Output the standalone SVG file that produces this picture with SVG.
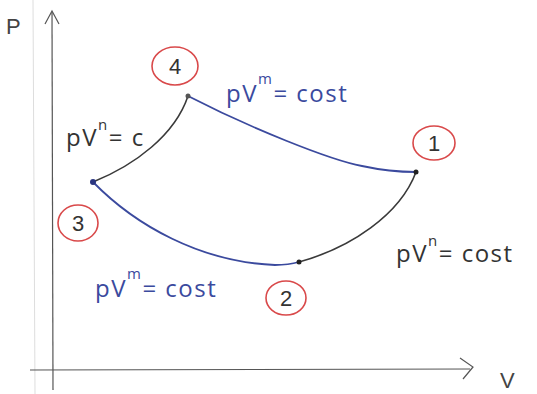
<svg xmlns="http://www.w3.org/2000/svg" width="537" height="394" viewBox="0 0 537 394">
<style>
.ax{stroke:#555;stroke-width:1.2;fill:none}
.blk{stroke:#3a3a3a;stroke-width:1.6;fill:none}
.blu{stroke:#3b4a9e;stroke-width:1.8;fill:none}
.ring{stroke:#d9494a;stroke-width:1.6;fill:none}
.num{font-family:"Liberation Sans",sans-serif;font-size:22px;fill:#333;text-anchor:middle}
.lb{font-family:"Open Sans","Liberation Sans",sans-serif;font-size:24px;fill:#333;letter-spacing:1.5px}
.lbb{font-family:"Open Sans","Liberation Sans",sans-serif;font-size:24px;fill:#3b4a9e;letter-spacing:1.5px}
.sup{font-size:15px}
.ax-t{font-family:"Liberation Sans",sans-serif;font-size:22px;fill:#444}
</style>
<rect width="537" height="394" fill="#ffffff"/>
<g id="axes">
<line x1="33" y1="0" x2="35" y2="394" stroke="#ddd" stroke-width="1"/>
<line class="ax" x1="52" y1="12" x2="53" y2="390"/>
<polyline class="ax" points="45,24 52,11 59,24"/>
<line class="ax" x1="30" y1="370" x2="470" y2="369"/>
<polyline class="ax" points="460,358 473,367 463,379"/>
<text class="ax-t" x="6" y="34">P</text>
<text class="ax-t" x="500" y="388">V</text>
</g>
<g id="connectors">
<path class="blu" d="M188,96 C250,128 330,160 362,166 C385,171 400,172 416,172"/>
<path class="blk" d="M93,182 C135,165 175,135 188,96"/>
<path class="blu" d="M93,182 C135,225 200,262 275,265 C285,265 292,264 299,262"/>
<path class="blk" d="M299,262 C350,248 400,215 416,172"/>
</g>
<g id="p1"><circle cx="416" cy="172" r="2.5" fill="#222"/><ellipse class="ring" cx="434" cy="143" rx="21" ry="17"/><text class="num" x="434" y="151">1</text></g>
<g id="p2"><circle cx="299" cy="262" r="2.5" fill="#222"/><ellipse class="ring" cx="286" cy="298" rx="20" ry="17"/><text class="num" x="286" y="306">2</text></g>
<g id="p3"><circle cx="93" cy="182" r="3" fill="#2a3580"/><ellipse class="ring" cx="78" cy="223" rx="20" ry="18"/><text class="num" x="78" y="231">3</text></g>
<g id="p4"><circle cx="188" cy="96" r="2.5" fill="#555"/><ellipse class="ring" cx="175" cy="66" rx="23" ry="19"/><text class="num" x="175" y="74">4</text></g>
<g id="labels">
<text class="lb" x="66" y="146">pV<tspan class="sup" dy="-16">n</tspan><tspan dy="16">= c</tspan></text>
<text class="lbb" x="226" y="102">pV<tspan class="sup" dy="-18">m</tspan><tspan dy="18">= cost</tspan></text>
<text class="lb" x="396" y="262">pV<tspan class="sup" dy="-16">n</tspan><tspan dy="16">= cost</tspan></text>
<text class="lbb" x="95" y="297">pV<tspan class="sup" dy="-18">m</tspan><tspan dy="18">= cost</tspan></text>
</g>
</svg>
